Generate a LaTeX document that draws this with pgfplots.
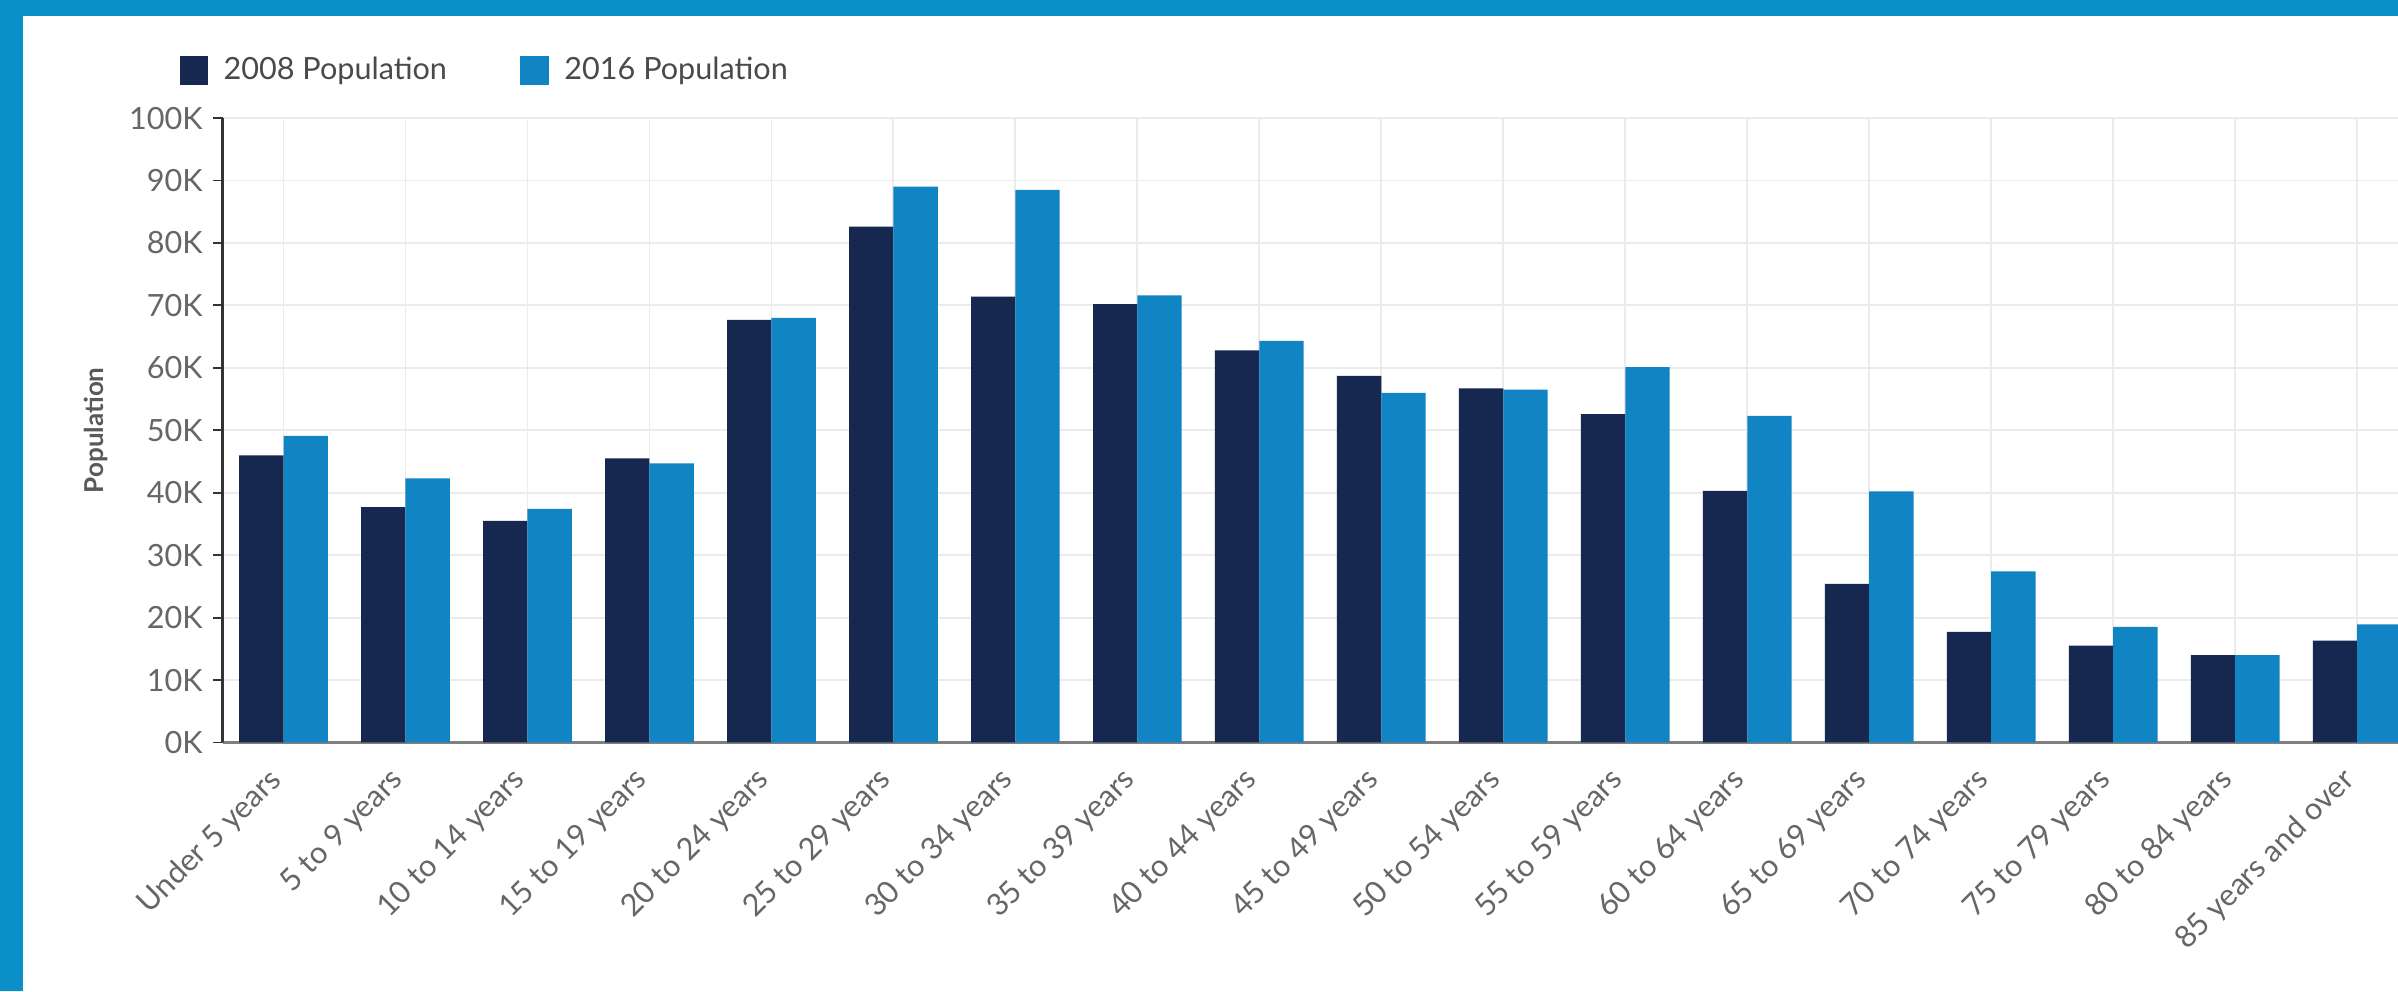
\documentclass[border=0pt]{standalone}
\usepackage{fontspec}
\setmainfont{Lato}
\usepackage{pgfplots}
\pgfplotsset{compat=1.18}
\definecolor{frameblue}{HTML}{0A90C6}
\definecolor{pop08}{HTML}{16284F}
\definecolor{pop16}{HTML}{1184C4}
\definecolor{ticktext}{HTML}{666666}
\definecolor{legtext}{HTML}{4A4A4A}
\definecolor{gridgray}{HTML}{EBEBEB}

\begin{document}
\begin{tikzpicture}
\useasboundingbox (0,0) rectangle (784pt,324pt);
% frame: blue band on top and left, white panel
\fill[frameblue] (0,0) rectangle (784pt,324pt);
\fill[white] (7.5pt,0) rectangle (784pt,318.85pt);
\clip (0,0) rectangle (784pt,324pt);
\begin{axis}[
	at={(72.75pt,81.25pt)}, anchor=south west,
	scale only axis,
	width=725.8pt, height=204.15pt,
	ybar=0pt, bar width=14.5pt,
	xmin=-0.5, xmax=17.7,
	ymin=0, ymax=100000,
	scaled y ticks=false,
	axis lines*=left,
	x axis line style={draw=black!50, line width=0.9pt},
	y axis line style={draw=black!80, line width=0.8pt},
	xtick={0,...,17},
	xticklabels={Under 5 years,5 to 9 years,10 to 14 years,15 to 19 years,20 to 24 years,25 to 29 years,30 to 34 years,35 to 39 years,40 to 44 years,45 to 49 years,50 to 54 years,55 to 59 years,60 to 64 years,65 to 69 years,70 to 74 years,75 to 79 years,80 to 84 years,85 years and over},
	ytick={0,10000,...,100000},
	yticklabels={0K,10K,20K,30K,40K,50K,60K,70K,80K,90K,100K},
	/pgf/number format/assume math mode=true,
	tick align=outside,
	major tick length=3pt,
	xtick style={draw=none},
	ytick style={draw=black!80, line width=0.6pt},
	xmajorgrids=true, ymajorgrids=true,
	grid style={draw=gridgray, line width=0.6pt},
	xticklabel style={xshift=-1.5pt, yshift=-7pt, rotate=45, anchor=east, font=\fontsize{10}{12}\selectfont, text=ticktext, inner sep=1pt},
	yticklabel style={font=\fontsize{10}{12}\selectfont, text=ticktext},
	ylabel={Population},
	ylabel style={at={(axis description cs:-0.0568,0.5)}, anchor=center, rotate=0, font=\fontsize{8.5}{10}\selectfont\bfseries, text=black!65},
	legend columns=2,
	legend cell align=left,
	legend style={at={(axis description cs:-0.0196,1.0764)}, anchor=west, draw=none, fill=none, inner sep=0pt,
		font=\fontsize{10}{12}\selectfont, text=legtext,
		/tikz/every even column/.append style={column sep=22pt}},
	]

	\addlegendimage{legend image code/.code={\fill[pop08] (0pt,-4.5pt) rectangle (9pt,4.5pt); \path (12pt,0);}}
	\addlegendentry{2008 Population}
	\addlegendimage{legend image code/.code={\fill[pop16] (0pt,-4.5pt) rectangle (9pt,4.5pt); \path (12pt,0);}}
	\addlegendentry{2016 Population}

	\addplot[fill=pop08, draw=none, bar shift=-7.25pt, forget plot] coordinates {
		(0,46000)(1,37700)(2,35500)(3,45500)(4,67700)(5,82600)(6,71400)(7,70200)(8,62800)
		(9,58700)(10,56700)(11,52600)(12,40300)(13,25400)(14,17700)(15,15500)(16,14000)(17,16300)
	};
	\addplot[fill=pop16, draw=none, bar shift=7.25pt, forget plot] coordinates {
		(0,49100)(1,42300)(2,37400)(3,44700)(4,68000)(5,89000)(6,88500)(7,71600)(8,64300)
		(9,56000)(10,56500)(11,60100)(12,52300)(13,40200)(14,27400)(15,18500)(16,14000)(17,18900)
	};
\end{axis}
\end{tikzpicture}
\end{document}
